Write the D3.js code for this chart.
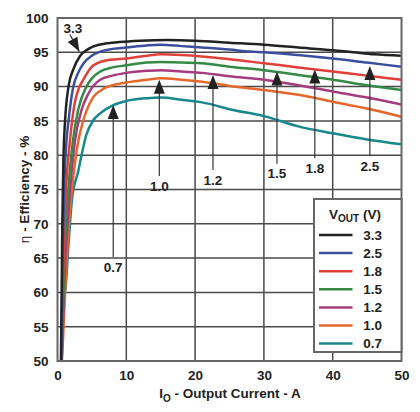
<!DOCTYPE html>
<html><head><meta charset="utf-8">
<script src="https://cdn.jsdelivr.net/npm/d3@7"></script>
<style>body{margin:0;background:#fff}svg{display:block}text{font-family:"Liberation Sans",Arial,sans-serif;font-weight:bold;fill:#222}</style>
</head><body><div id="c"></div>
<script>
const xTicks = [0,10,20,30,40,50];
const yTicks = [50,55,60,65,70,75,80,85,90,95,100];
const seriesNames = ["3.3","2.5","1.8","1.5","1.2","1.0","0.7"];
const seriesColors = ["#222222","#3c4f9e","#e0403a","#348a44","#a53d7c","#e5672c","#17898a"];
const s33 = [[0.5,50],[0.7,70],[0.85,79],[1.1,85],[1.6,90],[2.3,92.5],[3.3,94.5],[4.5,95.5],[6,96.1],[9,96.5],[12,96.7],[16,96.8],[20,96.7],[25,96.4],[30,96.1],[35,95.7],[40,95.3],[43,95.0],[46,94.7],[50,94.5]];
const s25 = [[0.55,50],[0.8,68],[1.0,76],[1.3,82],[1.6,85],[2.3,90],[3,92],[3.8,93.4],[5,94.5],[6.2,95.1],[8,95.5],[10,95.7],[13,96.0],[15,96.1],[18,95.9],[21,95.7],[25,95.4],[28,95.1],[30,95.0],[35,94.6],[40,94.1],[45,93.5],[50,92.9]];
const s18 = [[0.55,50],[0.9,66],[1.3,76],[1.8,82],[2.5,87.6],[3,89.5],[3.75,91],[5.2,93.1],[7.6,93.9],[10,94.1],[13,94.5],[15,94.7],[18,94.6],[21,94.4],[25,94.0],[30,93.4],[35,92.8],[40,92.2],[45,91.6],[50,91.0]];
const s15 = [[0.6,50],[1.0,65],[1.5,74],[2.2,81.8],[3,86.6],[4.2,90],[5,91.2],[6.2,92.2],[8,92.8],[10,93.1],[13,93.5],[15,93.6],[18,93.5],[21,93.4],[25,92.9],[30,92.4],[35,91.7],[40,91.0],[45,90.2],[50,89.5]];
const s12 = [[0.6,50],[1.1,64],[1.6,72],[2.5,81.8],[3.5,86.6],[4.5,89],[6.2,91],[8,91.6],[10,92.0],[13,92.3],[15,92.4],[18,92.2],[21,92.0],[25,91.5],[30,91.0],[35,90.2],[40,89.3],[45,88.4],[50,87.4]];
const s10 = [[0.65,50],[1.2,62],[1.6,69],[2.1,75],[2.8,80.8],[3.75,85.1],[4.7,87.6],[6.7,89.7],[8,90.2],[10,90.6],[13,91.0],[15,91.2],[18,91.0],[21,90.7],[25,90.1],[30,89.5],[35,88.8],[40,87.8],[45,86.8],[50,85.6]];
const s07 = [[0.8,60],[1.1,60.3],[1.6,67],[2.1,73.5],[3,77.6],[4.2,83.0],[5.2,85.1],[6.2,86.1],[8.1,87.3],[10,87.9],[13,88.3],[15,88.4],[18,88.1],[21,87.7],[25.5,86.6],[30,85.7],[35,84.2],[40,83.2],[45,82.3],[50,81.6]];
const seriesData = [s33,s25,s18,s15,s12,s10,s07];
// annotation labels: arrow current (A), tip efficiency, label efficiency
const annLabels = ["0.7","1.0","1.2","1.5","1.8","2.5"];
const annX = [8.1,14.8,22.6,31.9,37.4,45.4];
const annTip = [87.3,91.0,91.7,92.2,92.5,93.0];
const annLbl = [63.7,75.5,76.4,77.3,78.1,78.4];

const W=420,H=412, L=57.5, R=401.5, T=18, B=361;
const svg=d3.select("#c").append("svg").attr("width",W).attr("height",H);
const x=d3.scaleLinear().domain([0,50]).range([L,R]);
const y=d3.scaleLinear().domain([50,100]).range([B,T]);

// grid
const g=svg.append("g");
g.selectAll(".gx").data(xTicks.slice(1,-1)).join("line").attr("x1",d=>x(d)).attr("x2",d=>x(d)).attr("y1",T).attr("y2",B).attr("stroke","#4a4a4a").attr("stroke-width",1.5);
g.selectAll(".gy").data(yTicks.slice(1,-1)).join("line").attr("y1",d=>y(d)).attr("y2",d=>y(d)).attr("x1",L).attr("x2",R).attr("stroke","#4a4a4a").attr("stroke-width",1.5);

// tick labels via axes
const ax=svg.append("g").attr("transform",`translate(0,${B})`).call(d3.axisBottom(x).tickValues(xTicks).tickSize(0).tickPadding(9));
ax.select(".domain").remove();
ax.selectAll("text").attr("font-size",13.5).attr("font-family","Liberation Sans, Arial, sans-serif").attr("font-weight","bold").attr("fill","#222");
const ay=svg.append("g").attr("transform",`translate(${L},0)`).call(d3.axisLeft(y).tickValues(yTicks).tickSize(0).tickPadding(9));
ay.select(".domain").remove();
ay.selectAll("text").attr("font-size",13.5).attr("font-family","Liberation Sans, Arial, sans-serif").attr("font-weight","bold").attr("fill","#222");

// curves
const line=d3.line().x(d=>x(d[0])).y(d=>y(d[1])).curve(d3.curveMonotoneX);
svg.append("clipPath").attr("id","cp").append("rect").attr("x",L).attr("y",T).attr("width",R-L).attr("height",B-T);
svg.append("g").attr("clip-path","url(#cp)").selectAll("path").data(seriesData.slice().reverse()).join("path")
  .attr("d",line).attr("fill","none").attr("stroke-width",2.5)
  .attr("stroke",(d,i)=>seriesColors[seriesColors.length-1-i]);

// annotations
const ann=svg.append("g");
annLabels.forEach((lb,i)=>{
  const ax0=x(annX[i]), tip=y(annTip[i]), ly=y(annLbl[i]);
  ann.append("line").attr("x1",ax0).attr("x2",ax0).attr("y1",tip+8).attr("y2",ly-10).attr("stroke","#333").attr("stroke-width",1.2);
  ann.append("path").attr("d",`M${ax0},${tip}L${ax0-5.5},${tip+14}L${ax0+5.5},${tip+14}Z`).attr("fill","#222");
  ann.append("text").attr("x",ax0).attr("y",ly).attr("text-anchor","middle").attr("font-size",13.5).attr("dy","0.35em").text(lb);
});
// 3.3 diagonal arrow
{
  const tx=x(3.17), ty=y(95.1), sx=x(1.8), sy=y(97.6);
  ann.append("line").attr("x1",sx).attr("y1",sy).attr("x2",tx).attr("y2",ty).attr("stroke","#333").attr("stroke-width",1.2);
  const ang=Math.atan2(ty-sy,tx-sx);
  const bx=tx-14*Math.cos(ang), by=ty-14*Math.sin(ang);
  const px=-Math.sin(ang)*5.5, py=Math.cos(ang)*5.5;
  ann.append("path").attr("d",`M${tx},${ty}L${bx+px},${by+py}L${bx-px},${by-py}Z`).attr("fill","#222");
  ann.append("text").attr("x",x(2.25)).attr("y",y(98.5)).attr("text-anchor","middle").attr("dy","0.35em").attr("font-size",13.5).text("3.3");
}

// frame
svg.append("rect").attr("x",L).attr("y",T).attr("width",R-L).attr("height",B-T).attr("fill","none").attr("stroke","#666").attr("stroke-width",2);

// legend
const lg=svg.append("g");
const lx=314, ly0=199, lw=87.5, lh=153;
lg.append("rect").attr("x",lx).attr("y",ly0).attr("width",lw).attr("height",lh).attr("fill","#fff").attr("stroke","#666").attr("stroke-width",2);
const tt=lg.append("text").attr("x",355).attr("y",219).attr("text-anchor","middle").attr("font-size",13.5);
tt.append("tspan").text("V");
tt.append("tspan").attr("font-size",10).attr("dy",3).text("OUT");
tt.append("tspan").attr("dy",-3).text(" (V)");
seriesNames.forEach((n,i)=>{
  const yy=235+i*18.1;
  lg.append("line").attr("x1",319).attr("x2",352.5).attr("y1",yy).attr("y2",yy).attr("stroke",seriesColors[i]).attr("stroke-width",2.5);
  lg.append("text").attr("x",382).attr("y",yy).attr("dy","0.36em").attr("text-anchor","end").attr("font-size",13.5).text(n);
});

// axis titles
const xt=svg.append("text").attr("x",230).attr("y",398).attr("text-anchor","middle").attr("font-size",13.5);
xt.append("tspan").text("I");
xt.append("tspan").attr("font-size",10).attr("dy",4).text("O");
xt.append("tspan").attr("dy",-4).text(" - Output Current - A");
const yt=svg.append("text").attr("transform",`translate(29,${(T+B)/2}) rotate(-90)`).attr("text-anchor","middle").attr("font-size",13.5);
yt.append("tspan").attr("font-weight","normal").text("η");
yt.append("tspan").text(" - Efficiency - %");
</script></body></html>
